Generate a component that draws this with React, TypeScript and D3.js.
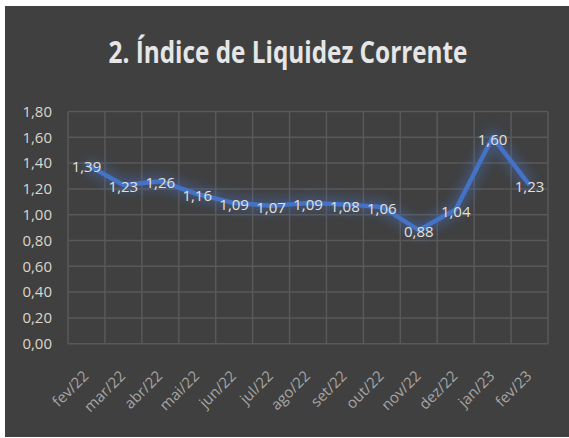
import React from 'react';
import * as d3 from 'd3';

const months = ['fev/22', 'mar/22', 'abr/22', 'mai/22', 'jun/22', 'jul/22', 'ago/22', 'set/22', 'out/22', 'nov/22', 'dez/22', 'jan/23', 'fev/23'];
const values = [1.39, 1.23, 1.26, 1.16, 1.09, 1.07, 1.09, 1.08, 1.06, 0.88, 1.04, 1.6, 1.23];
const yTicks = [0, 0.2, 0.4, 0.6, 0.8, 1.0, 1.2, 1.4, 1.6, 1.8];

const W = 569;
const H = 438;
const FONT = '"Open Sans", sans-serif';
const fmt = (v: number) => v.toFixed(2).replace('.', ',');

export default function App() {
  const x = d3.scaleBand<string>().domain(months).range([68, 548]).padding(0);
  const y = d3.scaleLinear().domain([0, 1.8]).range([343.7, 111.5]);
  const cx = (m: string) => x(m)! + x.bandwidth() / 2;

  const line = d3.line<number>()
    .x((_, i) => cx(months[i]))
    .y(d => y(d))(values) || '';

  const bounds = x.domain().map(m => x(m)!).concat([548]);

  return (
    <svg width={W} height={H} style={{ position: 'absolute', left: 0, top: 0, display: 'block' }}>
      <defs>
        <filter id="glow" x="-20%" y="-50%" width="140%" height="200%">
          <feGaussianBlur stdDeviation="6" />
        </filter>
      </defs>
      <rect x={0} y={0} width={W} height={H} fill="#fff" />
      <rect x={5} y={6} width={W - 5} height={431} fill="#404040" />

      {/* title */}
      <text x={288} y={63} textAnchor="middle" fill="#e6e6e6" fontFamily={FONT} fontWeight="bold" fontSize={30}
        textLength={359} lengthAdjust="spacingAndGlyphs">
        2. Índice de Liquidez Corrente
      </text>

      {/* grid */}
      <g stroke="#595959" strokeWidth={1.5}>
        {yTicks.map(t => (
          <line key={t} x1={68} x2={548} y1={y(t)} y2={y(t)} />
        ))}
        {bounds.map((b, i) => (
          <line key={i} x1={b} x2={b} y1={y(1.8)} y2={y(0)} />
        ))}
      </g>

      {/* y labels */}
      {yTicks.map(t => (
        <text key={t} x={52} y={y(t)} dy="0.35em" textAnchor="end" fill="#dcd6cc" fontFamily={FONT} fontSize={15}>
          {fmt(t)}
        </text>
      ))}

      {/* x labels */}
      {months.map(m => (
        <text key={m} transform={`translate(${cx(m) + 3},${377}) rotate(-45)`} textAnchor="end"
          fill="#a6a6a6" fontFamily={FONT} fontSize={15}>
          {m}
        </text>
      ))}

      {/* line with glow */}
      <path d={line} fill="none" stroke="#4472c4" strokeWidth={12} strokeOpacity={0.45} filter="url(#glow)" />
      <path d={line} fill="none" stroke="#4472c4" strokeWidth={4.5} strokeLinejoin="round" />

      {/* data labels */}
      {values.map((v, i) => (
        <text key={i} x={cx(months[i])} y={y(v) + 2} dy="0.35em" textAnchor="middle" fill="#e4e0d8"
          fontFamily={FONT} fontSize={15}>
          {fmt(v)}
        </text>
      ))}
    </svg>
  );
}
